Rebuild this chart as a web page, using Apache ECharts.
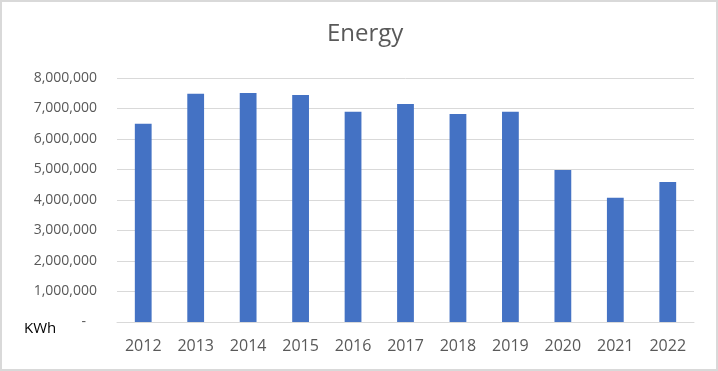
<!DOCTYPE html>
<html><head><meta charset="utf-8">
<script src="https://cdn.jsdelivr.net/npm/echarts@6/dist/echarts.min.js"></script>
<style>html,body{margin:0;padding:0;background:#fff}#c{width:718px;height:371px}</style>
</head><body><div id="c"></div>
<script>
const years = ['2012','2013','2014','2015','2016','2017','2018','2019','2020','2021','2022'];
const energy = [6500000, 7480000, 7510000, 7440000, 6890000, 7150000, 6820000, 6890000, 4980000, 4070000, 4590000];
const chart = echarts.init(document.getElementById('c'));
const FONT = '"Open Sans", "Noto Sans", sans-serif';
chart.setOption({
  animation: false,
  backgroundColor: '#ffffff',
  title: { text: 'Energy', left: 327, top: 22, padding: 0, textStyle: { fontFamily: FONT, fontSize: 24, fontWeight: 'normal', color: '#595959' } },
  grid: { left: 117, right: 24, top: 78, bottom: 49 },
  graphic: [
    { type: 'rect', shape: { x: 1, y: 1, width: 716, height: 369 }, style: { fill: 'none', stroke: '#d9d9d9', lineWidth: 2 }, silent: true },
    { type: 'text', x: 24, y: 329, style: { text: 'KWh', fontFamily: FONT, fontSize: 15, fill: '#000000', verticalAlign: 'middle' } }
  ],
  xAxis: {
    type: 'category', data: years,
    axisLine: { lineStyle: { color: '#d9d9d9' } },
    axisTick: { show: false },
    axisLabel: { fontFamily: FONT, fontSize: 16, color: '#595959', margin: 16 }
  },
  yAxis: {
    type: 'value', min: 0, max: 8000000, interval: 1000000,
    axisLine: { show: false }, axisTick: { show: false },
    splitLine: { lineStyle: { color: '#d9d9d9', width: 1 } },
    axisLabel: {
      fontFamily: FONT, fontSize: 14, color: '#595959', margin: 20,
      formatter: v => v === 0 ? '-   ' : v.toLocaleString('en-US')
    }
  },
  series: [{ type: 'bar', data: energy, barWidth: '32%', itemStyle: { color: '#4472c4' } }]
});
</script></body></html>
